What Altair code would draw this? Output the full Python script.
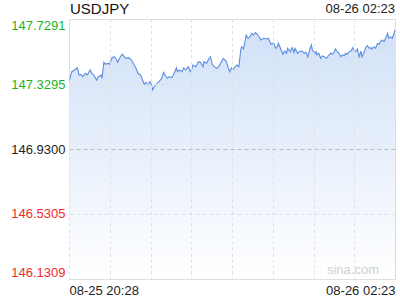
import altair as alt
import pandas as pd

# minutes since 08-25 20:28
minutes = [0, 1, 3, 6, 9, 11, 13, 15, 18, 20, 23, 25, 27, 30, 32, 35, 36, 38, 40, 42, 44, 47, 49, 51, 53, 55,
           58, 60, 62, 65, 68, 70, 73, 75, 78, 80, 82, 84, 86, 88, 90, 91, 94, 96, 98, 101, 103, 105, 107, 109,
           112, 114, 117, 118, 120, 123, 125, 127, 130, 132, 134, 135, 138, 141, 143, 146, 147, 150, 152, 154,
           156, 158, 161, 163, 166, 168, 171, 173, 175, 177, 179, 181, 183, 185, 187, 188, 190, 193, 195, 197,
           199, 201, 203, 205, 207, 209, 212, 215, 217, 220, 223, 225, 227, 228, 231, 233, 235, 237, 238, 241,
           243, 245, 246, 249, 251, 254, 256, 258, 260, 262, 264, 265, 268, 269, 270, 272, 274, 276, 278, 280,
           281, 283, 285, 287, 289, 290, 292, 294, 296, 298, 300, 301, 303, 305, 307, 309, 310, 312, 314, 316,
           318, 319, 321, 323, 325, 327, 329, 330, 332, 334, 336, 338, 339, 341, 343, 345, 347, 348, 350, 352,
           354, 355]
prices = [147.3437, 147.3646, 147.4052, 147.4156, 147.4297, 147.3849, 147.3892, 147.3744, 147.3953, 147.3849,
          147.4156, 147.3953, 147.3849, 147.3541, 147.3744, 147.3849, 147.3646, 147.4629, 147.4506, 147.4568,
          147.4506, 147.4912, 147.4974, 147.4875, 147.4629, 147.4875, 147.5121, 147.4974, 147.4875, 147.4912,
          147.4771, 147.4568, 147.4260, 147.3953, 147.3849, 147.3541, 147.3277, 147.3400, 147.3234, 147.3437,
          147.3234, 147.2927, 147.3234, 147.3338, 147.3437, 147.3646, 147.4015, 147.3806, 147.3646, 147.3744,
          147.3683, 147.3892, 147.4297, 147.4052, 147.4156, 147.4052, 147.4297, 147.4156, 147.4359, 147.4052,
          147.4260, 147.4463, 147.4359, 147.4666, 147.4629, 147.4359, 147.4666, 147.4568, 147.4814, 147.4974,
          147.4506, 147.4359, 147.4260, 147.4359, 147.4666, 147.4875, 147.4709, 147.4359, 147.4052, 147.4297,
          147.4199, 147.4359, 147.4463, 147.4359, 147.5385, 147.5588, 147.5447, 147.6307, 147.6105, 147.6203,
          147.6412, 147.6307, 147.6473, 147.6350, 147.6203, 147.6000, 147.6105, 147.6062, 147.6105, 147.5736,
          147.5797, 147.5490, 147.5588, 147.5797, 147.5385, 147.5121, 147.5324, 147.5183, 147.5490, 147.5281,
          147.5527, 147.5244, 147.5490, 147.5183, 147.5281, 147.5324, 147.5183, 147.5244, 147.4974, 147.5385,
          147.5693, 147.5385, 147.5183, 147.5281, 147.5078, 147.5183, 147.4875, 147.5017, 147.4974, 147.4875,
          147.4912, 147.5078, 147.5183, 147.5121, 147.5281, 147.5447, 147.5281, 147.5183, 147.4974, 147.5078,
          147.5035, 147.5183, 147.5121, 147.5281, 147.5324, 147.5527, 147.5385, 147.5281, 147.5447, 147.4974,
          147.5324, 147.4974, 147.5183, 147.5527, 147.5650, 147.5490, 147.5527, 147.5447, 147.5588, 147.5490,
          147.5797, 147.5736, 147.5896, 147.6000, 147.5896, 147.6142, 147.6412, 147.6105, 147.6203, 147.6105,
          147.6412, 147.6615]

y_ticks = [146.1309, 146.5305, 146.9300, 147.3295, 147.7291]
prev_close = 146.9300
x_grid = [0, 44.375, 88.75, 133.125, 177.5, 221.875, 266.25, 310.625, 355]
x_labels = ["08-25 20:28", "08-26 02:23"]
symbol = "USDJPY"
last_time = "08-26 02:23"
watermark = "sina.com"

df = pd.DataFrame({"m": minutes, "p": prices})
FONT = "Liberation Sans"

x_enc = alt.X(
    "m:Q",
    scale=alt.Scale(domain=[0, 355], nice=False, zero=False),
    axis=alt.Axis(
        values=x_grid, title=None, domain=False, ticks=False, grid=True, zindex=1,
        gridColor="#e0e0e0", gridDash=[3, 3], gridWidth=1,
        labelExpr=f"datum.value == 0 ? '{x_labels[0]}' : datum.value == 355 ? '{x_labels[1]}' : ''",
        labelFlush=True, labelFont=FONT, labelFontSize=13, labelColor="#222",
        labelPadding=5, labelOverlap=False,
    ),
)

y_enc = alt.Y(
    "p:Q",
    scale=alt.Scale(domain=[y_ticks[0], y_ticks[-1]], nice=False, zero=False),
    axis=alt.Axis(
        values=y_ticks, title=None, domain=False, ticks=False, grid=True, zindex=1,
        format=".4f", labelFlush=True, labelFont=FONT, labelFontSize=13, labelPadding=4,
        labelColor={"condition": [
            {"test": f"datum.value > {prev_close + 0.001}", "value": "#1fb31f"},
            {"test": f"datum.value < {prev_close - 0.001}", "value": "#f42a2a"}],
            "value": "#222"},
        gridColor={"condition": {"test": f"abs(datum.value - {prev_close}) < 0.001", "value": "#bdbdbd"},
                   "value": "#e0e0e0"},
        gridDash=[4, 3],
    ),
)

area = alt.Chart(df).mark_area(
    color=alt.Gradient(
        gradient="linear", x1=0, x2=0, y1=0, y2=1,
        stops=[alt.GradientStop(color="#d2e1f8", offset=0),
               alt.GradientStop(color="#ffffff", offset=1)],
    ),
    opacity=1,
).encode(x=x_enc, y=y_enc, y2=alt.datum(y_ticks[0]))

line = alt.Chart(df).mark_line(color="#5b8de0", strokeWidth=1.1).encode(x="m:Q", y="p:Q")

title_df = pd.DataFrame({"t": [symbol]})
title = alt.Chart(title_df).mark_text(
    align="left", baseline="bottom", font=FONT, fontSize=15, color="#111"
).encode(text="t:N", x=alt.value(1), y=alt.value(-2))

time_df = pd.DataFrame({"t": [last_time]})
time_txt = alt.Chart(time_df).mark_text(
    align="right", baseline="bottom", font=FONT, fontSize=13, color="#222"
).encode(text="t:N", x=alt.value(326), y=alt.value(-3))

wm_df = pd.DataFrame({"t": [watermark]})
wm = alt.Chart(wm_df).mark_text(
    align="right", baseline="bottom", font=FONT, fontSize=13, color="#cfcfcf"
).encode(text="t:N", x=alt.value(310), y=alt.value(258))

chart = alt.layer(area, line, title, time_txt, wm).properties(
    width=326, height=260,
    autosize=alt.AutoSizeParams(type="none"),
    padding={"left": 69, "top": 19, "right": 5, "bottom": 21},
).configure_view(stroke="#dcdcdc", strokeWidth=1).configure(background="white")

chart.save("out.html", embed_options={"renderer": "svg", "actions": False})
